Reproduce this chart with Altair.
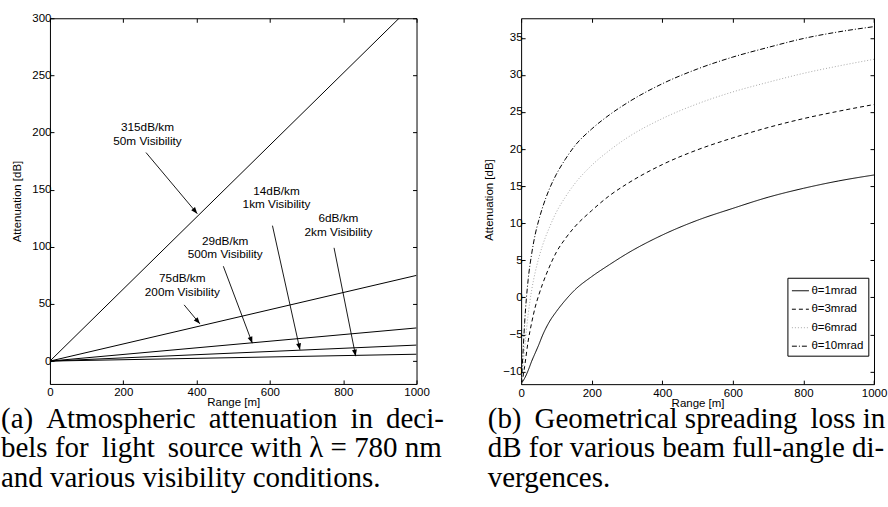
import math
import altair as alt
import pandas as pd

# ---------------- panel (a): atmospheric attenuation ----------------
# specific attenuation of each visibility condition in dB/km,
# which is also the attenuation reached at a range of 1000 m
rates_db_km = [315, 75, 29, 14, 6]
range_ends_m = [0, 1000]

rate_text = ["315dB/km", "75dB/km", "29dB/km", "14dB/km", "6dB/km"]
vis_text = ["50m Visibility", "200m Visibility", "500m Visibility",
            "1km Visibility", "2km Visibility"]
label_range = [266, 361, 478, 618, 787]
label_atten = [204.5, 72.5, 105.4, 149.0, 125.1]
arrow_from_range = [262, 366, 473, 607, 775]
arrow_from_atten = [182.5, 49.2, 83.0, 118.5, 99.1]
arrow_to_range = [402, 409, 552, 682, 834]
arrow_to_atten = [129.0, 32.6, 15.7, 9.9, 4.3]

# ---------------- panel (b): geometrical spreading loss ----------------
spread_range_m = [0, 5, 10, 20, 30, 40, 50, 60, 80, 100, 125, 150,
                  200, 250, 300, 400, 500, 600, 700, 800, 900, 1000]
loss_1mrad = [-11.6, -11.3, -10.9, -9.85, -8.6, -7.5, -6.4, -5.2, -3.3, -1.9, -0.4, 0.9,
              2.8, 4.4, 5.9, 8.4, 10.4, 12.0, 13.5, 14.7, 15.7, 16.5]
loss_3mrad = [-11.6, -10.8, -9.3, -5.9, -3.4, -1.3, 0.3, 1.7, 4.1, 6.1, 7.9, 9.4,
              11.7, 13.7, 15.3, 17.9, 19.9, 21.5, 22.9, 24.1, 25.1, 26.0]
loss_6mrad = [-11.6, -9.6, -6.9, -2.3, 1.0, 3.4, 5.3, 6.9, 9.4, 11.5, 13.5, 15.2,
              17.8, 19.8, 21.5, 24.1, 26.1, 27.7, 29.0, 30.2, 31.2, 32.1]
loss_10mrad = [-11.6, -7.8, -3.4, 2.4, 5.9, 8.5, 10.4, 12.0, 14.6, 16.6, 18.6, 20.3,
               22.7, 24.6, 26.2, 28.8, 30.8, 32.4, 33.7, 34.9, 35.8, 36.5]
divergence_names = ["θ=1mrad", "θ=3mrad", "θ=6mrad", "θ=10mrad"]

# captions; the extra thin spaces stand in for justified word spacing
TS = "\u2009"
caption_a = [f"(a) {TS}Atmospheric {TS}attenuation {TS}in {TS}deci-",
             f"bels for {TS}light {TS}source with λ = 780 nm",
             "and various visibility conditions."]
caption_b = [f"(b) {TS}Geometrical spreading {TS}loss in",
             "dB for various beam full-angle di-",
             "vergences."]

# ---------------- layout ----------------
TOP = 17.2                       # y of both plot frames' top edge
W_A, H_A = 367, 383.3 - TOP
W_B, H_B = 353.3, 383.5 - TOP
GAP = 104.7
CAPTION_BASELINE = 427
CAPTION_LINE = 29.5
SANS = "Liberation Sans"
SERIF = "Liberation Serif"
FS = 11.5
INWARD = alt.ExprRef(expr="-4")

X_DOM = [0, 1000]
YA_DOM = [-20, 300]
YB_DOM = [-11.7, 37.63]
X_TICKS = [0, 200, 400, 600, 800, 1000]
YA_TICKS = [0, 50, 100, 150, 200, 250, 300]
YB_TICKS = [-10, -5, 0, 5, 10, 15, 20, 25, 30, 35]


def axis(orient, values, labels=True, **kw):
    return alt.Axis(orient=orient, values=values, labels=labels, domain=False,
                    grid=False, ticks=True, tickSize=INWARD, tickColor="black",
                    tickWidth=1, labelFlush=False, labelOverlap=False, format="d",
                    labelFont=SANS, labelFontSize=FS, labelColor="black",
                    titleFont=SANS, titleFontSize=FS, titleColor="black",
                    titleFontWeight="normal", minExtent=0, **kw)


def xs(dom):
    return alt.Scale(domain=dom, nice=False, zero=False)


# ---- panel (a) data ----
rows = []
for r in rates_db_km:
    for rng, frac in zip(range_ends_m, [0, 1]):
        rows.append({"range": rng, "atten": r * frac, "rate": str(r)})
df_a = pd.DataFrame(rows)

px_x = W_A / (X_DOM[1] - X_DOM[0])
px_y = H_A / (YA_DOM[1] - YA_DOM[0])
angles = []
for x0, y0, x1, y1 in zip(arrow_from_range, arrow_from_atten, arrow_to_range, arrow_to_atten):
    dx = (x1 - x0) * px_x
    dy = -(y1 - y0) * px_y
    angles.append(math.degrees(math.atan2(dx, -dy)) % 360)

df_ann = pd.DataFrame({
    "lx": label_range, "ly": label_atten, "t1": rate_text, "t2": vis_text,
    "x0": arrow_from_range, "y0": arrow_from_atten,
    "x1": arrow_to_range, "y1": arrow_to_atten, "ang": angles,
})

xa = alt.X("range:Q", scale=xs(X_DOM),
           axis=axis("bottom", X_TICKS, title="Range [m]", labelPadding=7,
                     titleY=19, titleBaseline="middle"))
ya = alt.Y("atten:Q", scale=xs(YA_DOM),
           axis=axis("left", YA_TICKS, title="Attenuation [dB]", labelPadding=3,
                     titleX=-32.3, titleY=200.2 - TOP, titleBaseline="middle"))

lines_a = alt.Chart(df_a).mark_line(color="black", strokeWidth=1, clip=True).encode(
    x=xa, y=ya, detail="rate:N")

mirror_a = alt.Chart(df_a).mark_line(opacity=0).encode(
    x=alt.X("range:Q", scale=xs(X_DOM), axis=axis("top", X_TICKS, labels=False, title=None)),
    y=alt.Y("atten:Q", scale=xs(YA_DOM), axis=axis("right", YA_TICKS, labels=False, title=None)),
    detail="rate:N")

ann = alt.Chart(df_ann)
txt1 = ann.mark_text(font=SANS, fontSize=11.8, color="black", baseline="middle").encode(
    x=alt.X("lx:Q", scale=xs(X_DOM), axis=None),
    y=alt.Y("ly:Q", scale=xs(YA_DOM), axis=None), text="t1:N")
txt2 = ann.mark_text(font=SANS, fontSize=11.8, color="black", baseline="middle", dy=13.7).encode(
    x=alt.X("lx:Q", scale=xs(X_DOM), axis=None),
    y=alt.Y("ly:Q", scale=xs(YA_DOM), axis=None), text="t2:N")
shafts = ann.mark_rule(color="black", strokeWidth=0.9).encode(
    x=alt.X("x0:Q", scale=xs(X_DOM), axis=None),
    y=alt.Y("y0:Q", scale=xs(YA_DOM), axis=None),
    x2="x1:Q", y2="y1:Q")
heads = ann.mark_point(shape="M0,0L-0.38,1L0.38,1Z", filled=True, color="black",
                       opacity=1, size=170).encode(
    x=alt.X("x1:Q", scale=xs(X_DOM), axis=None),
    y=alt.Y("y1:Q", scale=xs(YA_DOM), axis=None),
    angle=alt.Angle("ang:Q", scale=None))

cap_a = alt.Chart(pd.DataFrame({"k": [0]})).mark_text(
    text=caption_a, font=SERIF, fontSize=29, lineHeight=CAPTION_LINE, align="left",
    baseline="alphabetic", color="black").encode(
    x=alt.value(-49), y=alt.value(CAPTION_BASELINE - TOP))

panel_a = alt.layer(lines_a, mirror_a, shafts, heads, txt1, txt2, cap_a).resolve_axis(
    x="independent", y="independent").properties(width=W_A, height=H_A)

# ---- panel (b) data ----
rows = []
for name, vals in zip(divergence_names, [loss_1mrad, loss_3mrad, loss_6mrad, loss_10mrad]):
    for rng, v in zip(spread_range_m, vals):
        rows.append({"range": rng, "loss": v, "theta": name})
df_b = pd.DataFrame(rows)

# legend box position is given relative to the left panel's plot origin
legend_b = alt.Legend(title=None, orient="none", legendX=W_A + GAP + 266.6,
                      legendY=277 - TOP,
                      symbolType="stroke", symbolSize=289, symbolStrokeWidth=1,
                      labelFont=SANS, labelFontSize=FS, labelColor="black",
                      labelOffset=2, rowPadding=3.5, padding=4,
                      strokeColor="black", fillColor="white", cornerRadius=0)

lines_b = alt.Chart(df_b).mark_line(strokeWidth=1, interpolate="monotone", clip=True).encode(
    x=alt.X("range:Q", scale=xs(X_DOM),
            axis=axis("bottom", X_TICKS, title="Range [m]", labelPadding=7,
                      titleY=19, titleBaseline="middle")),
    y=alt.Y("loss:Q", scale=xs(YB_DOM),
            axis=axis("left", YB_TICKS, title="Attenuation [dB]", labelPadding=3,
                      titleX=-31.7, titleY=198.7 - TOP, titleBaseline="middle")),
    color=alt.Color("theta:N", scale=alt.Scale(domain=divergence_names,
                    range=["black", "black", "#a8a8a8", "black"]), legend=legend_b),
    strokeDash=alt.StrokeDash("theta:N", scale=alt.Scale(domain=divergence_names,
                    range=[[1, 0], [4, 3], [1, 2], [5, 2, 1, 2]]), legend=legend_b),
    detail="theta:N")

mirror_b = alt.Chart(df_b).mark_line(opacity=0).encode(
    x=alt.X("range:Q", scale=xs(X_DOM), axis=axis("top", X_TICKS, labels=False, title=None)),
    y=alt.Y("loss:Q", scale=xs(YB_DOM), axis=axis("right", YB_TICKS, labels=False, title=None)),
    detail="theta:N")

cap_b = alt.Chart(pd.DataFrame({"k": [0]})).mark_text(
    text=caption_b, font=SERIF, fontSize=29, lineHeight=CAPTION_LINE, align="left",
    baseline="alphabetic", color="black").encode(
    x=alt.value(-33.4), y=alt.value(CAPTION_BASELINE - TOP))

panel_b = alt.layer(lines_b, mirror_b, cap_b).resolve_axis(
    x="independent", y="independent").properties(width=W_B, height=H_B)

chart = alt.hconcat(panel_a, panel_b, spacing=GAP, bounds="flush").properties(
    padding={"left": 0, "top": 0, "right": 0, "bottom": 0},
    background="white",
).configure_view(stroke="black", strokeWidth=1)

chart.save("out.html", embed_options={"renderer": "svg", "actions": False})
